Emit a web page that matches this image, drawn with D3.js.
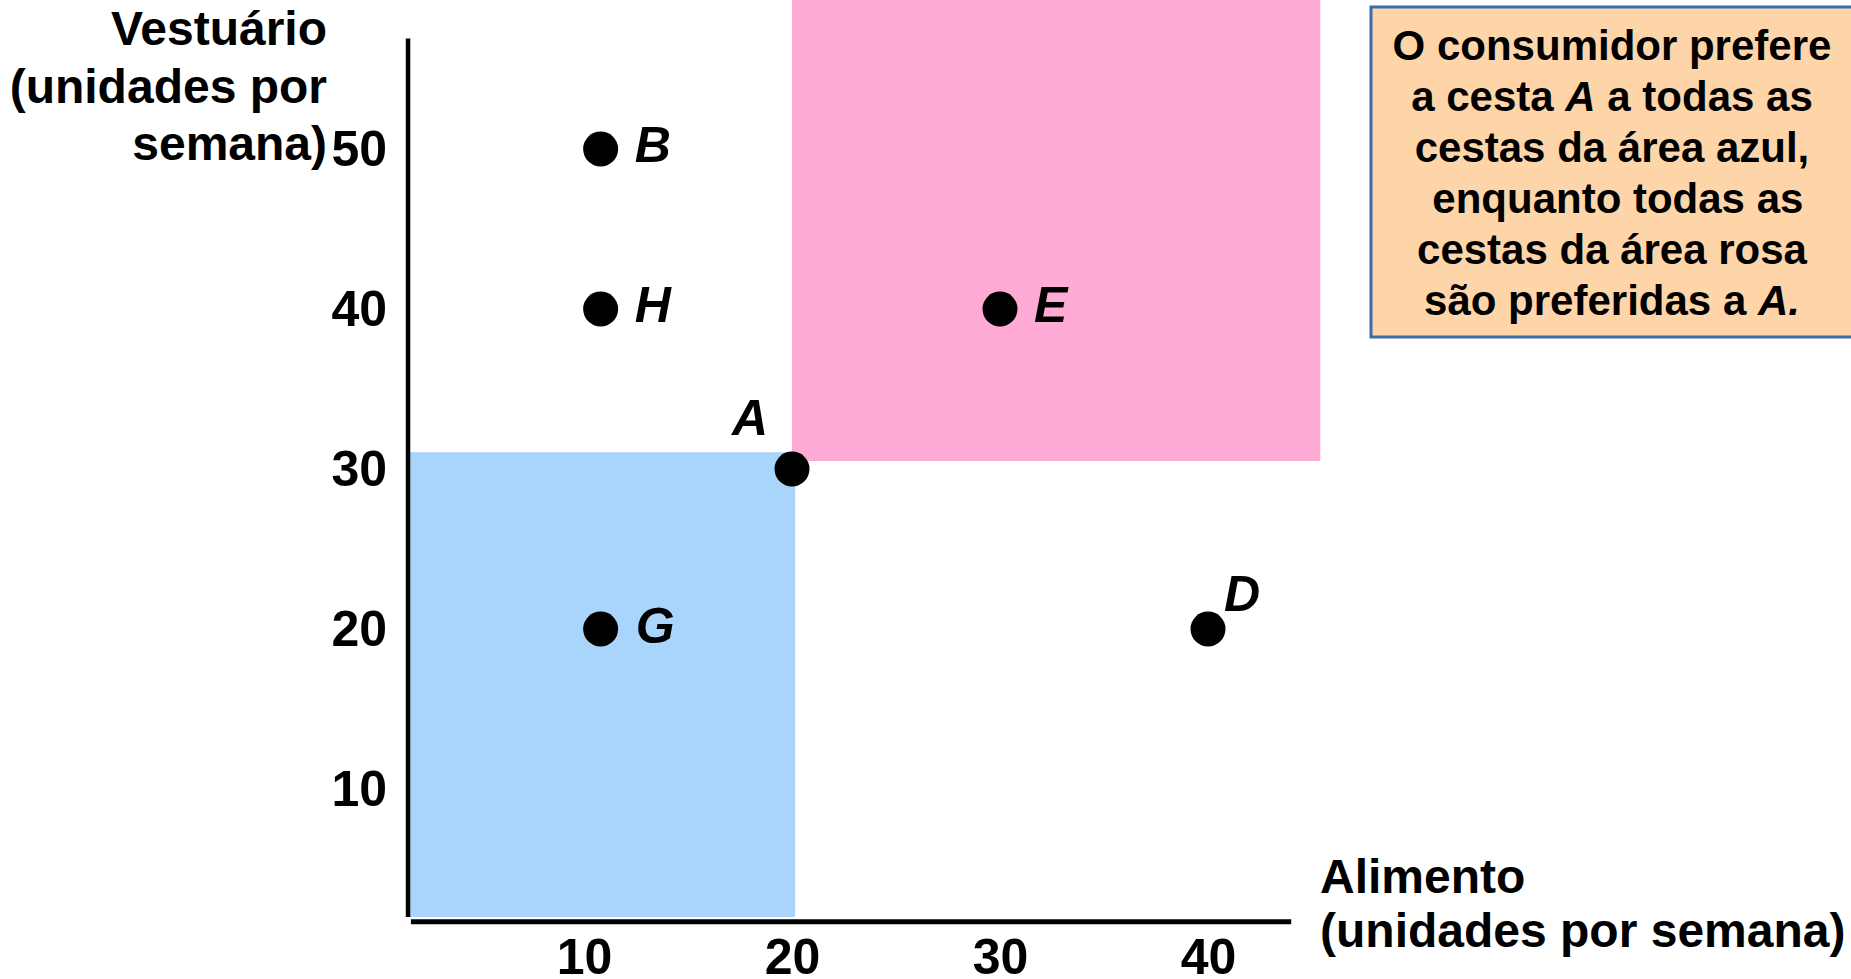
<!DOCTYPE html>
<html>
<head>
<meta charset="utf-8">
<script src="https://cdn.jsdelivr.net/npm/d3@7"></script>
<style>
  html, body { margin: 0; padding: 0; background: #ffffff; }
  svg { display: block; font-family: "Liberation Sans", Arial, sans-serif; font-weight: bold; }
</style>
</head>
<body>
<svg id="chart" width="1851" height="979"></svg>
<script>
// ---- data ----
const pointLabels = ["A", "B", "D", "E", "G", "H"];
const pointX = [20, 10.8, 40, 30, 10.8, 10.8];
const pointY = [30, 50, 20, 40, 20, 40];
const xTicks = [10, 20, 30, 40];
const yTicks = [10, 20, 30, 40, 50];
const blueX = [1.6, 20.15];
const blueY = [2.0, 31.05];
const pinkX = [20.0, 45.4];
const pinkY = [30.5, 62];
const yTitle = ["Vestuário", "(unidades por", "semana)"];
const xTitle = ["Alimento", "(unidades por semana)"];
const noteLines = [
  [["O consumidor prefere", false]],
  [["a cesta ", false], ["A", true], [" a todas as", false]],
  [["cestas da área azul,", false]],
  [[" enquanto todas as", false]],
  [["cestas da área rosa", false]],
  [["são preferidas a ", false], ["A.", true]]
];

// ---- layout ----
const svg = d3.select("#chart");
const x = d3.scaleLinear().domain([0, 50]).range([376, 1416]);
const y = d3.scaleLinear().domain([0, 60]).range([949, -11]);

const yAxisAt = 1.54, xAxisAt = 1.7;

// shaded areas
svg.append("rect")
  .attr("x", x(blueX[0])).attr("y", y(blueY[1]))
  .attr("width", x(blueX[1]) - x(blueX[0]))
  .attr("height", y(blueY[0]) - y(blueY[1]))
  .attr("fill", "#a9d5fd");
svg.append("rect")
  .attr("x", x(pinkX[0])).attr("y", Math.max(0, y(pinkY[1])))
  .attr("width", x(pinkX[1]) - x(pinkX[0]))
  .attr("height", y(pinkY[0]) - Math.max(0, y(pinkY[1])))
  .attr("fill", "#ffabd5");

// axis lines
svg.append("line")
  .attr("x1", x(yAxisAt)).attr("x2", x(yAxisAt))
  .attr("y1", y(56.9)).attr("y2", y(2.0))
  .attr("stroke", "#000").attr("stroke-width", 4.5);
svg.append("line")
  .attr("x1", x(1.68)).attr("x2", x(44.0))
  .attr("y1", y(xAxisAt)).attr("y2", y(xAxisAt))
  .attr("stroke", "#000").attr("stroke-width", 5);

// axes ticks
const yAxis = svg.append("g")
  .attr("transform", `translate(${x(yAxisAt)},0)`)
  .call(d3.axisLeft(y).tickValues(yTicks).tickSize(0).tickPadding(21));
const xAxis = svg.append("g")
  .attr("transform", `translate(0,${y(xAxisAt)})`)
  .call(d3.axisBottom(x).tickValues(xTicks).tickSize(0).tickPadding(17));
[yAxis, xAxis].forEach(g => {
  g.select(".domain").remove();
  g.selectAll("text")
    .attr("fill", "#000")
    .style("font-family", '"Liberation Sans", Arial, sans-serif')
    .style("font-weight", "bold")
    .style("font-size", "50px");
});

// axis titles
svg.append("text")
  .attr("text-anchor", "end")
  .style("font-size", "48px")
  .selectAll("tspan").data(yTitle).join("tspan")
  .attr("x", 327)
  .attr("y", (d, i) => 45 + i * 57.5)
  .text(d => d);

svg.append("text")
  .attr("text-anchor", "start")
  .style("font-size", "48px")
  .selectAll("tspan").data(xTitle).join("tspan")
  .attr("x", 1320)
  .attr("y", (d, i) => 893 + i * 54)
  .text(d => d);

// points
const pts = pointLabels.map((l, i) => ({ label: l, x: pointX[i], y: pointY[i] }));
svg.append("g").selectAll("circle").data(pts).join("circle")
  .attr("cx", d => x(d.x)).attr("cy", d => y(d.y))
  .attr("r", 17.5).attr("fill", "#000");

const labelOffset = {
  A: [-60, -34], B: [34, 13], D: [16, -18], E: [34, 13], G: [35, 14], H: [34, 13]
};
svg.append("g").selectAll("text").data(pts).join("text")
  .attr("x", d => x(d.x) + labelOffset[d.label][0])
  .attr("y", d => y(d.y) + labelOffset[d.label][1])
  .style("font-size", "50px")
  .style("font-style", "italic")
  .text(d => d.label);

// note box
svg.append("rect")
  .attr("x", 1371).attr("y", 7).attr("width", 490).attr("height", 330)
  .attr("fill", "#fdd5a9").attr("stroke", "#3d6ca8").attr("stroke-width", 3);

const note = svg.append("text")
  .attr("text-anchor", "middle")
  .style("font-size", "42px")
  .style("white-space", "pre");
noteLines.forEach((parts, i) => {
  const line = note.append("tspan").attr("x", 1612).attr("y", 60 + i * 51);
  parts.forEach(([t, it]) => {
    line.append("tspan").style("font-style", it ? "italic" : "normal").text(t);
  });
});
</script>
</body>
</html>
